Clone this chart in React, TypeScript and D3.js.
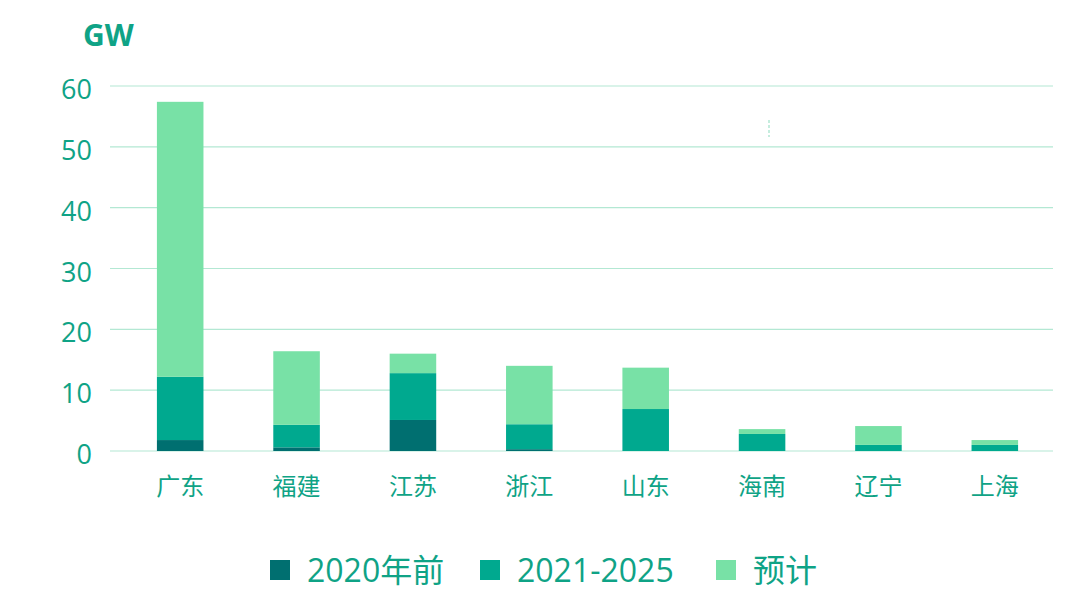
import React from "react";
import * as d3 from "d3";

const categories = ["广东", "福建", "江苏", "浙江", "山东", "海南", "辽宁", "上海"];
const seriesNames = ["2020年前", "2021-2025", "预计"];
const before2020 = [1.8, 0.6, 5.1, 0.3, 0, 0, 0, 0];
const y2021to2025 = [10.4, 3.7, 7.7, 4.1, 6.9, 2.8, 1.0, 1.0];
const forecast = [45.2, 12.1, 3.2, 9.6, 6.8, 0.8, 3.1, 0.8];
const yTicks = [0, 10, 20, 30, 40, 50, 60];
const colors = ["#006f70", "#00a98f", "#78e1a6"];

const W = 1080;
const H = 603;
const FONT = "'Open Sans', 'Noto Sans CJK SC', sans-serif";
const TEXT = "#0fa386";
const GRID = "#b3e8d3";

export default function App() {
  const x = d3.scaleBand<string>().domain(categories).range([122, 1053]).paddingInner(0.6).paddingOuter(0.3);
  const y = d3.scaleLinear().domain([0, 60]).range([451, 86]);
  const rows = categories.map((c, i) => ({ cat: c, s0: before2020[i], s1: y2021to2025[i], s2: forecast[i] }));
  const stack = d3.stack<any>().keys(["s0", "s1", "s2"])(rows);

  const legendX = [270, 480, 716];
  return (
    <svg width={W} height={H} style={{ position: "absolute", left: 0, top: 0, background: "#fff" }} fontFamily={FONT}>
      <text x={83} y={46} fontSize={30} fontWeight={700} fill={TEXT}>GW</text>
      {yTicks.map((t) => (
        <g key={t}>
          <line x1={110} x2={1053} y1={y(t)} y2={y(t)} stroke={GRID} strokeWidth={1.2} />
          <text x={92} y={y(t) + 13} textAnchor="end" fontSize={27} fill={TEXT}>{t}</text>
        </g>
      ))}
      <line x1={769} x2={769} y1={120} y2={137} stroke={GRID} strokeWidth={1.5} strokeDasharray="3 2" />
      {stack.map((layer, li) => (
        <g key={li} fill={colors[li]}>
          {layer.map((d: any, i: number) => (
            d[1] - d[0] > 0 ? (
              <rect key={i} x={x(categories[i])} width={x.bandwidth()} y={y(d[1])} height={y(d[0]) - y(d[1])} />
            ) : null
          ))}
        </g>
      ))}
      {categories.map((c) => (
        <text key={c} x={(x(c) as number) + x.bandwidth() / 2} y={495} textAnchor="middle" fontSize={24} fill={TEXT}>{c}</text>
      ))}
      {seriesNames.map((s, i) => (
        <g key={s}>
          <rect x={legendX[i]} y={560} width={20} height={20} fill={colors[i]} />
          <text x={legendX[i] + 37} y={582} fontSize={32} fill={TEXT}>{s}</text>
        </g>
      ))}
    </svg>
  );
}
